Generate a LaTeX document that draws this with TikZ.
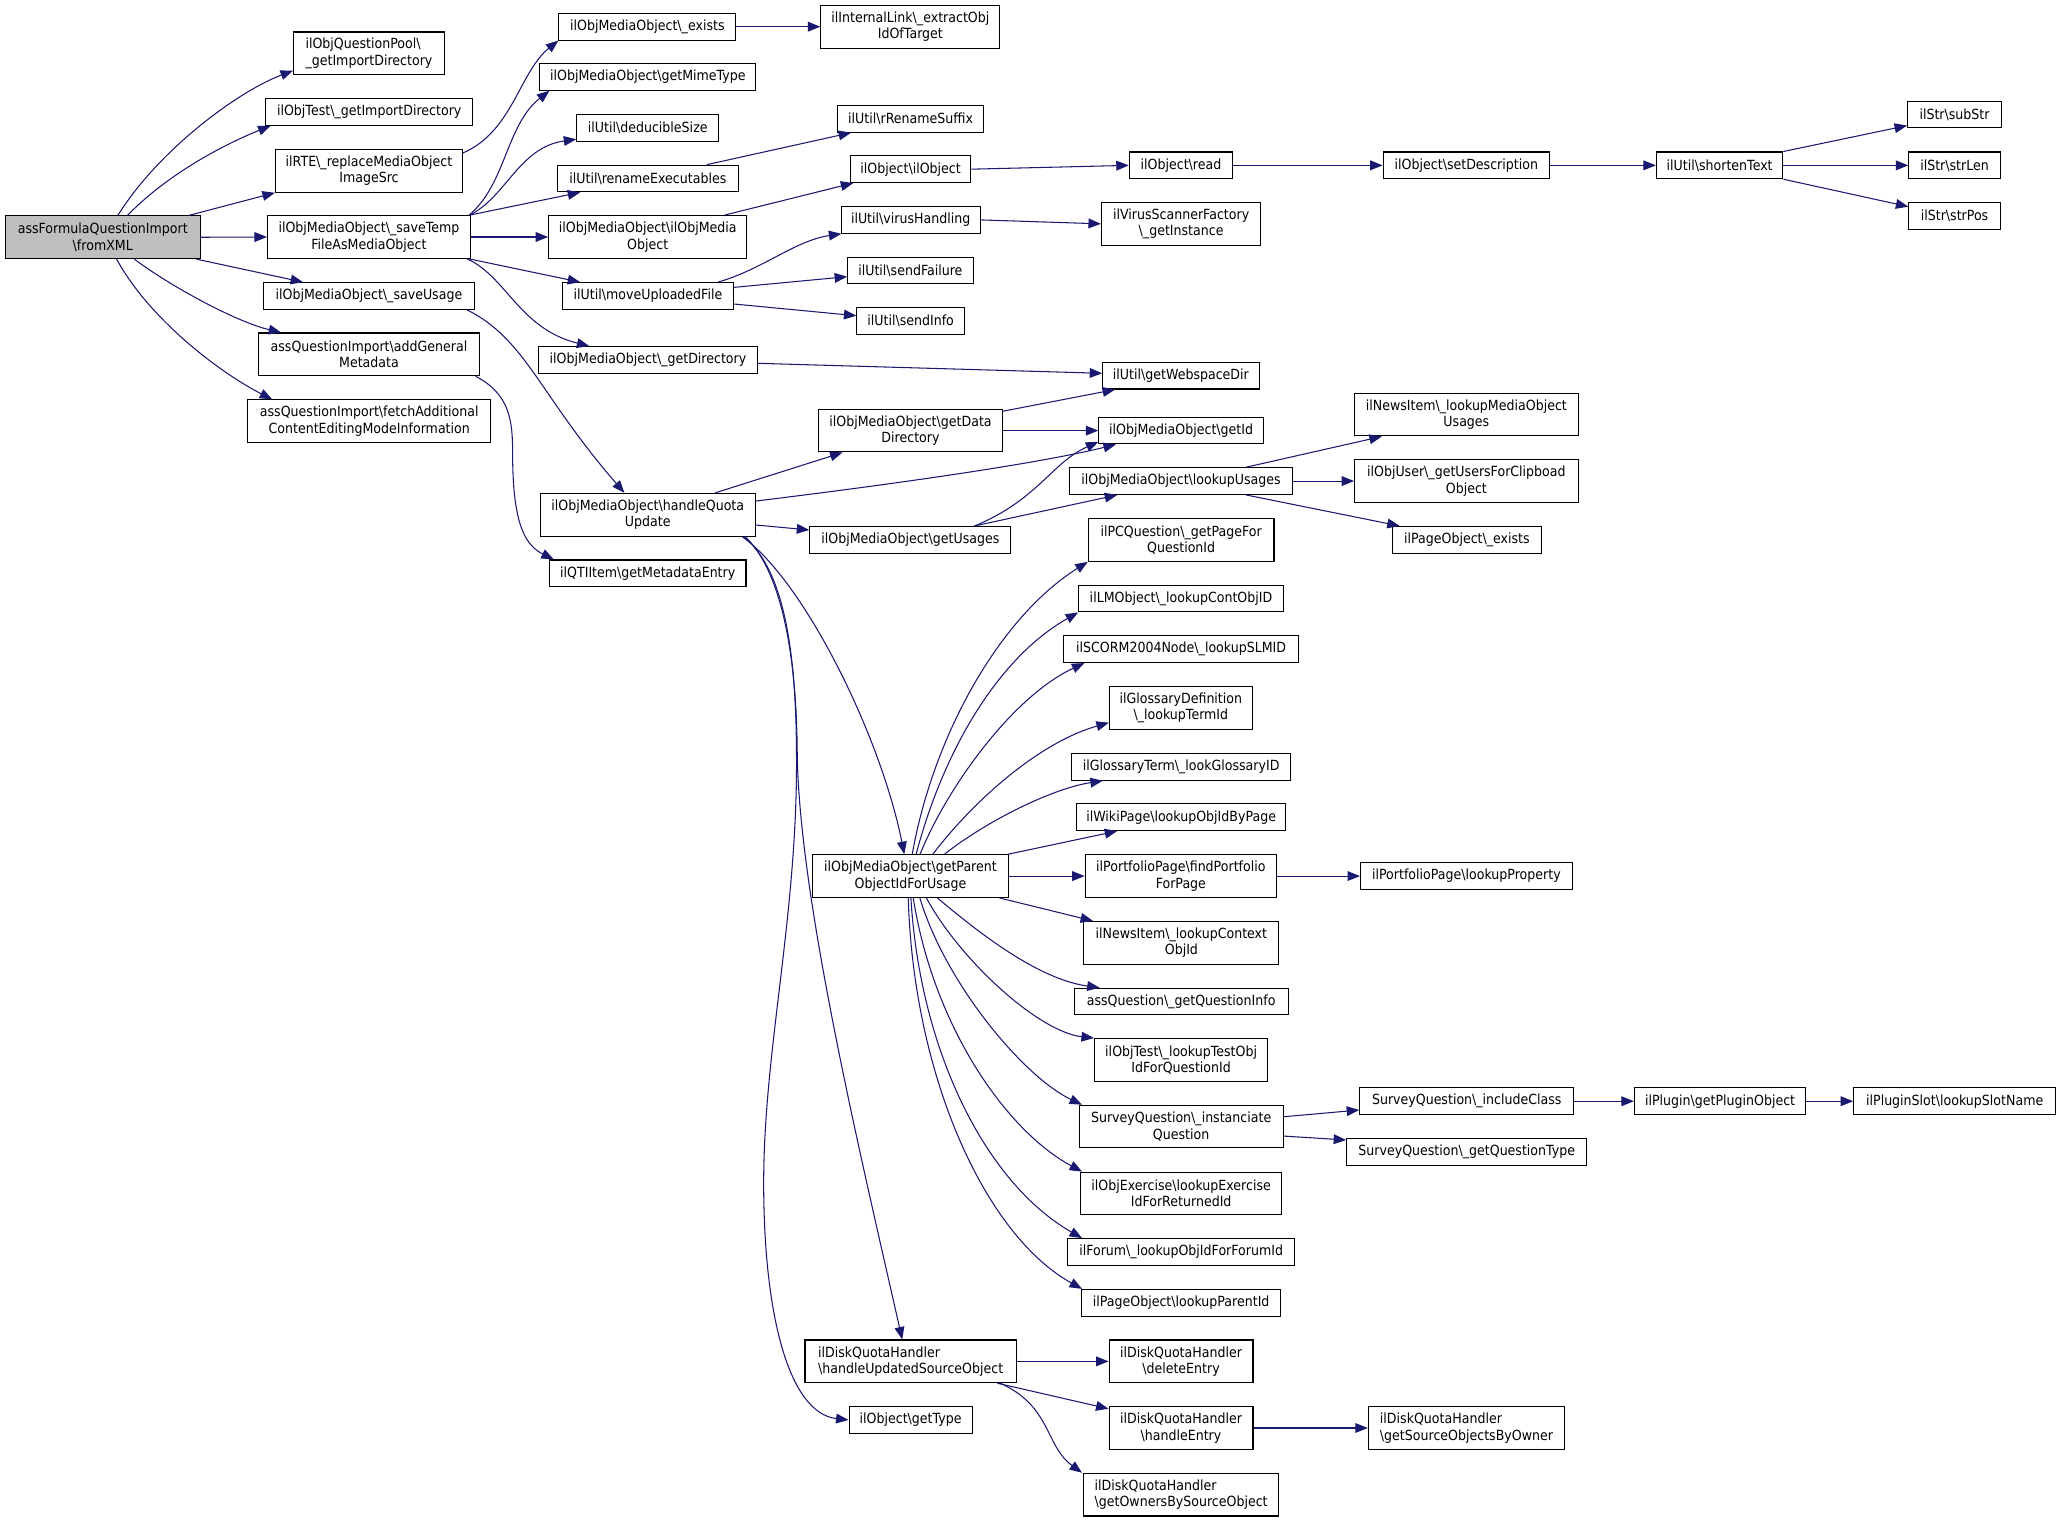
\documentclass[tikz,border=0pt]{standalone}
\usepackage{fontspec}
\setmainfont{DejaVu Sans}[FakeStretch=0.9]
\usetikzlibrary{arrows.meta,calc}
\definecolor{mblue}{HTML}{191970}
\definecolor{rootgray}{HTML}{BFBFBF}
\newcommand{\bsx}{\textbackslash}
\newcommand{\dxfont}{\fontsize{10.65pt}{12.4pt}\selectfont}
\begin{document}
\begin{tikzpicture}[x=1pt,y=-1pt,
 fn/.style={draw=black, line width=0.8pt, fill=white, inner xsep=1pt, inner ysep=1pt, minimum width=#1, minimum height=20.3pt, align=center, font=\dxfont},
 fn2/.style={fn=#1, minimum height=32.5pt},
 ce/.style={draw=mblue, line width=0.8pt, -{Triangle[length=9.5pt,width=7.4pt]}}]
\path[use as bounding box, fill=white] (0,0) rectangle (1568,1157.2);

% column 1
\node[fn2=148.3pt, fill=rootgray] (root) at (78.2,180.5) {assFormulaQuestionImport\\\bsx fromXML};
% column 2
\node[fn2=114.8pt, align=left] (qpool) at (280.7,40.6) {ilObjQuestionPool\bsx\\\_getImportDirectory};
\node[fn=157.3pt] (otest) at (280.9,85.2) {ilObjTest\bsx\_getImportDirectory};
\node[fn2=142.3pt] (rte) at (280.7,130) {ilRTE\bsx\_replaceMediaObject\\ImageSrc};
\node[fn2=154.4pt] (savetemp) at (280.7,180.3) {ilObjMediaObject\bsx\_saveTemp\\FileAsMediaObject};
\node[fn=160.4pt] (saveusage) at (280.7,225.2) {ilObjMediaObject\bsx\_saveUsage};
\node[fn2=168.4pt] (addgen) at (280.7,269.6) {assQuestionImport\bsx addGeneral\\Metadata};
\node[fn2=184.8pt] (fetch) at (280.9,320.5) {assQuestionImport\bsx fetchAdditional\\ContentEditingModeInformation};
% column 3
\node[fn=134.7pt] (exists) at (492.5,20.3) {ilObjMediaObject\bsx\_exists};
\node[fn=164.2pt] (mime) at (492.9,58.5) {ilObjMediaObject\bsx getMimeType};
\node[fn=107.9pt] (deduc) at (492.8,97.4) {ilUtil\bsx deducibleSize};
\node[fn=137.5pt] (rename) at (492.9,135.8) {ilUtil\bsx renameExecutables};
\node[fn2=150.8pt] (mobctor) at (492.8,180.3) {ilObjMediaObject\bsx ilObjMedia\\Object};
\node[fn=130.4pt] (move) at (493,225.2) {ilUtil\bsx moveUploadedFile};
\node[fn=166.4pt] (getdir) at (493,273.9) {ilObjMediaObject\bsx\_getDirectory};
\node[fn2=163.5pt] (handleq) at (492.8,391.6) {ilObjMediaObject\bsx handleQuota\\Update};
\node[fn=149.5pt] (qti) at (492.8,436.2) {ilQTIItem\bsx getMetadataEntry};
% column 4
\node[fn2=136.2pt] (intlink) at (692.6,20.3) {ilInternalLink\bsx\_extractObj\\IdOfTarget};
\node[fn=111.1pt] (rrename) at (692.8,90.4) {ilUtil\bsx rRenameSuffix};
\node[fn=91.7pt] (objctor) at (692.8,128.7) {ilObject\bsx ilObject};
\node[fn=105.7pt] (virus) at (692.8,167.3) {ilUtil\bsx virusHandling};
\node[fn=95.4pt] (sendfail) at (692.6,205.8) {ilUtil\bsx sendFailure};
\node[fn=81.7pt] (sendinfo) at (692.8,244.2) {ilUtil\bsx sendInfo};
\node[fn2=139.9pt] (datadir) at (692.7,327.6) {ilObjMediaObject\bsx getData\\Directory};
\node[fn=153pt] (getusages) at (692.6,410.7) {ilObjMediaObject\bsx getUsages};
\node[fn2=148.6pt] (parent) at (692.7,666.5) {ilObjMediaObject\bsx getParent\\ObjectIdForUsage};
\node[fn2=160.7pt, align=left] (hus) at (692.8,1035.7) {ilDiskQuotaHandler\\\bsx handleUpdatedSourceObject};
\node[fn=93.7pt] (gettype) at (692.8,1080.3) {ilObject\bsx getType};
% column 5
\node[fn=78.7pt] (read) at (898.5,125.8) {ilObject\bsx read};
\node[fn2=121.2pt] (vsf) at (898.6,170.3) {ilVirusScannerFactory\\\bsx\_getInstance};
\node[fn=118.9pt] (webspace) at (898.4,285.8) {ilUtil\bsx getWebspaceDir};
\node[fn=125.2pt] (getid) at (898.6,327.6) {ilObjMediaObject\bsx getId};
\node[fn=169.7pt] (lookupusages) at (898.5,366) {ilObjMediaObject\bsx lookupUsages};
\node[fn2=141.3pt] (pcq) at (898.6,410.8) {ilPCQuestion\bsx\_getPageFor\\QuestionId};
\node[fn=155.7pt] (lmobj) at (898.5,455.4) {ilLMObject\bsx\_lookupContObjID};
\node[fn=178.7pt] (scorm) at (898.6,493.9) {ilSCORM2004Node\bsx\_lookupSLMID};
\node[fn2=108.8pt] (glossdef) at (898.4,538.6) {ilGlossaryDefinition\\\bsx\_lookupTermId};
\node[fn=166.7pt] (glossterm) at (898.6,583.4) {ilGlossaryTerm\bsx\_lookGlossaryID};
\node[fn=158.6pt] (wiki) at (898.6,621.7) {ilWikiPage\bsx lookupObjIdByPage};
\node[fn2=145.6pt] (portfind) at (898.4,666.5) {ilPortfolioPage\bsx findPortfolio\\ForPage};
\node[fn2=148.3pt] (newsctx) at (898.8,717.3) {ilNewsItem\bsx\_lookupContext\\ObjId};
\node[fn=162.7pt] (assq) at (898.6,762) {assQuestion\bsx\_getQuestionInfo};
\node[fn2=131.9pt] (testobj) at (898.6,806.4) {ilObjTest\bsx\_lookupTestObj\\IdForQuestionId};
\node[fn2=155.3pt] (survinst) at (898.6,857.1) {SurveyQuestion\bsx\_instanciate\\Question};
\node[fn2=153.3pt] (exercise) at (898.6,908) {ilObjExercise\bsx lookupExercise\\IdForReturnedId};
\node[fn=172.8pt] (forum) at (898.6,952.5) {ilForum\bsx\_lookupObjIdForForumId};
\node[fn=151.3pt] (pageparent) at (898.6,991.1) {ilPageObject\bsx lookupParentId};
\node[fn2=109.5pt] (delentry) at (898.5,1035.7) {ilDiskQuotaHandler\\\bsx deleteEntry};
\node[fn2=109.5pt] (handleentry) at (898.5,1086.4) {ilDiskQuotaHandler\\\bsx handleEntry};
\node[fn2=148.7pt, align=left] (owners) at (898.6,1137.1) {ilDiskQuotaHandler\\\bsx getOwnersBySourceObject};
% column 6
\node[fn=126.6pt] (setdesc) at (1115.6,125.8) {ilObject\bsx setDescription};
\node[fn2=170pt] (newsmedia) at (1115.6,315.4) {ilNewsItem\bsx\_lookupMediaObject\\Usages};
\node[fn2=170pt] (objuser) at (1115.6,366) {ilObjUser\bsx\_getUsersForClipboad\\Object};
\node[fn=112.9pt] (pageexists) at (1116,410.7) {ilPageObject\bsx\_exists};
\node[fn=161pt] (portprop) at (1115.6,666.5) {ilPortfolioPage\bsx lookupProperty};
\node[fn=162.9pt] (sqinclude) at (1115.9,837.8) {SurveyQuestion\bsx\_includeClass};
\node[fn=182.7pt] (sqtype) at (1115.9,876.3) {SurveyQuestion\bsx\_getQuestionType};
\node[fn2=149.4pt, align=left] (sourceobj) at (1115.7,1086.4) {ilDiskQuotaHandler\\\bsx getSourceObjectsByOwner};
% column 7
\node[fn=96.2pt] (shorten) at (1308.3,125.8) {ilUtil\bsx shortenText};
\node[fn=130.3pt] (plugin) at (1308.6,837.8) {ilPlugin\bsx getPluginObject};
% column 8
\node[fn=71.5pt] (substr) at (1487,87.2) {ilStr\bsx subStr};
\node[fn=69.5pt] (strlen) at (1487,125.8) {ilStr\bsx strLen};
\node[fn=69.5pt] (strpos) at (1487,164.2) {ilStr\bsx strPos};
\node[fn=153.6pt] (pluginslot) at (1487.1,837.8) {ilPluginSlot\bsx lookupSlotName};

% edges from root
\draw[ce] ($(root.north)+(11.5,0)$) .. controls (120,115) and (180,70) .. ($(qpool.south west)+(0,-3.5)$);
\draw[ce] ($(root.north)+(18.8,0)$) .. controls (130,130) and (175,108) .. ($(otest.south west)+(4,0)$);
\draw[ce] ($(root.north east)+(-9,0)$) -- (rte.south west);
\draw[ce] (root.east) -- (savetemp.west);
\draw[ce] ($(root.south east)+(-3.3,0)$) -- ($(saveusage.north west)+(30.5,0)$);
\draw[ce] ($(root.south)+(24,0)$) .. controls (130,218) and (180,245) .. ($(addgen.north west)+(17.8,0)$);
\draw[ce] ($(root.south)+(10.5,0)$) .. controls (115,245) and (170,285) .. ($(fetch.north west)+(19,0)$);
% column 2 out
\draw[ce] ($(rte.north east)+(0,3)$) .. controls (390,100) and (395,55) .. (exists.south west);
\draw[ce] ($(savetemp.north east)+(-1.4,0)$) .. controls (385,140) and (385,95) .. ($(mime.south west)+(7.6,0)$);
\draw[ce] ($(savetemp.north east)+(-1,0)$) .. controls (385,150) and (395,112) .. ($(deduc.south west)+(0,-2)$);
\draw[ce] ($(savetemp.north east)+(-1,0)$) -- ($(rename.south west)+(17.7,0)$);
\draw[ce] (savetemp.east) -- (mobctor.west);
\draw[ce] ($(savetemp.south east)+(-1.4,0)$) -- ($(move.north west)+(14,0)$);
\draw[ce] ($(savetemp.south east)+(-3,0)$) .. controls (385,210) and (395,250) .. ($(getdir.north west)+(39,0)$);
\draw[ce] ($(saveusage.south east)+(-6,0)$) .. controls (400,258) and (410,300) .. ($(handleq.north west)+(64.4,0)$);
\draw[ce] ($(addgen.south east)+(-3.4,0)$) .. controls (388,300) and (390,320) .. (390,345) .. controls (390,400) and (400,415) .. ($(qti.north west)+(3.7,0)$);
% column 3 out
\draw[ce] (exists.east) -- (intlink.west);
\draw[ce] ($(rename.north east)+(-24.25,0)$) -- ($(rrename.south west)+(10.65,0)$);
\draw[ce] ($(mobctor.north east)+(-17.4,0)$) -- ($(objctor.south west)+(2.65,0)$);
\draw[ce] ($(move.north east)+(-12.4,0)$) .. controls (580,205) and (605,183) .. ($(virus.south west)+(0.55,0)$);
\draw[ce] ($(move.east)+(0,-6.6)$) -- ($(sendfail.west)+(0,4.7)$);
\draw[ce] ($(move.east)+(0,6.1)$) -- ($(sendinfo.west)+(0,-4)$);
\draw[ce] ($(getdir.east)+(0,2.5)$) -- ($(webspace.west)+(0,-1.8)$);
\draw[ce] ($(handleq.north)+(51.3,0)$) -- ($(datadir.south west)+(18.65,0)$);
\draw[ce] ($(handleq.east)+(0,-10.4)$) .. controls (650,372) and (780,355) .. ($(getid.south west)+(13.4,0)$);
\draw[ce] ($(handleq.east)+(0,7.8)$) -- ($(getusages.west)+(0,-7.5)$);
\draw[ce] ($(handleq.south east)+(-10.35,0)$) .. controls (612,442) and (670,560) .. ($(parent.north)+(-4.7,0)$);
\draw[ce] ($(handleq.south east)+(-8,0)$) .. controls (600,440) and (606,520) .. (606.5,570) .. controls (607,680) and (655,880) .. ($(hus.north)+(-6.4,0)$);
\draw[ce] ($(handleq.south east)+(-9,0)$) .. controls (598,435) and (606,500) .. (606,580) .. controls (606,700) and (581,800) .. (581,900) .. controls (581,1000) and (600,1075) .. (gettype.west);
% column 4 out
\draw[ce] (virus.east) -- (vsf.west);
\draw[ce] (objctor.east) -- (read.west);
\draw[ce] ($(getusages.north east)+(-28.1,0)$) .. controls (790,380) and (800,352) .. ($(getid.south west)+(0,-2)$);
\draw[ce] ($(getusages.north east)+(-28.1,0)$) -- ($(lookupusages.south west)+(36.75,0)$);
\draw[ce] ($(datadir.north east)+(0,1.9)$) -- ($(webspace.south west)+(9.85,0)$);
\draw[ce] (datadir.east) -- (getid.west);
\draw[ce] ($(parent.north)+(1.3,0)$) .. controls (710,560) and (760,470) .. (pcq.south west);
\draw[ce] ($(parent.north)+(4.3,0)$) .. controls (718,570) and (760,500) .. (lmobj.south west);
\draw[ce] ($(parent.north)+(7.3,0)$) .. controls (720,600) and (770,530) .. ($(scorm.south west)+(16.15,0)$);
\draw[ce] ($(parent.north)+(17,0)$) .. controls (740,610) and (790,565) .. ($(glossdef.west)+(0,11.2)$);
\draw[ce] ($(parent.north east)+(-48.8,0)$) .. controls (750,625) and (800,600) .. ($(glossterm.south west)+(24.15,0)$);
\draw[ce] ($(parent.north east)+(-0.3,0)$) -- ($(wiki.south west)+(31.1,0)$);
\draw[ce] (parent.east) -- (portfind.west);
\draw[ce] ($(parent.south east)+(-7,0)$) -- ($(newsctx.north west)+(7.35,0)$);
\draw[ce] ($(parent.south)+(20.5,0)$) .. controls (745,710) and (790,745) .. ($(assq.north west)+(19.75,0)$);
\draw[ce] ($(parent.south)+(12.1,0)$) .. controls (730,730) and (790,785) .. (testobj.north west);
\draw[ce] ($(parent.south)+(7.1,0)$) .. controls (720,750) and (780,820) .. ($(survinst.north west)+(2.65,0)$);
\draw[ce] ($(parent.south)+(2.1,0)$) .. controls (710,780) and (765,860) .. ($(exercise.north west)+(1.65,0)$);
\draw[ce] ($(parent.south)+(0.3,0)$) .. controls (700,800) and (750,900) .. ($(forum.north west)+(11.4,0)$);
\draw[ce] ($(parent.south)+(-1.7,0)$) .. controls (695,820) and (750,940) .. ($(pageparent.north west)+(0.65,0)$);
\draw[ce] (hus.east) -- (delentry.west);
\draw[ce] ($(hus.south east)+(-14.75,0)$) -- ($(handleentry.north west)+(0,2)$);
\draw[ce] ($(hus.south east)+(-12.5,0)$) .. controls (800,1070) and (795,1100) .. ($(owners.north west)+(-0.65,0)$);
% column 5 out
\draw[ce] (read.east) -- (setdesc.west);
\draw[ce] ($(lookupusages.north east)+(-35.75,0)$) -- ($(newsmedia.south west)+(21.1,0)$);
\draw[ce] (lookupusages.east) -- (objuser.west);
\draw[ce] ($(lookupusages.south east)+(-35.75,0)$) -- ($(pageexists.north west)+(5.75,0)$);
\draw[ce] (portfind.east) -- (portprop.west);
\draw[ce] ($(survinst.east)+(0,-7.5)$) -- ($(sqinclude.west)+(0,6.7)$);
\draw[ce] ($(survinst.east)+(0,7.2)$) -- ($(sqtype.west)+(0,-9)$);
\draw[ce] (handleentry.east) -- (sourceobj.west);
% further right
\draw[ce] (setdesc.east) -- (shorten.west);
\draw[ce] (shorten.north east) -- ($(substr.south west)+(0,-2.2)$);
\draw[ce] (shorten.east) -- (strlen.west);
\draw[ce] (shorten.south east) -- ($(strpos.west)+(0,-7)$);
\draw[ce] (sqinclude.east) -- (plugin.west);
\draw[ce] (plugin.east) -- (pluginslot.west);
\end{tikzpicture}
\end{document}
